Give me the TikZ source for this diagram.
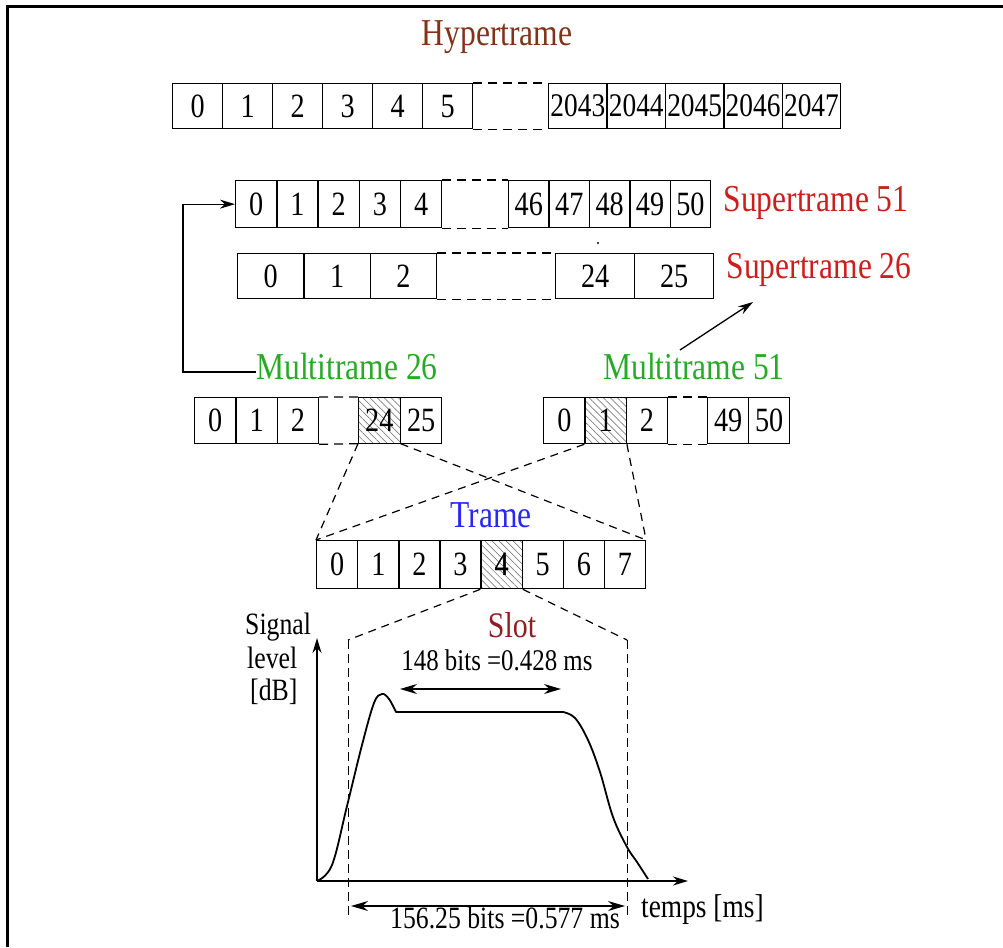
\documentclass[tikz,border=0pt]{standalone}
\usepackage{fontspec}
\setmainfont{Liberation Serif}[FakeStretch=0.83]
\usetikzlibrary{arrows.meta,patterns.meta}
\newcommand\myfs[1]{\fontsize{#1}{#1}\selectfont}
\definecolor{hyperbrown}{RGB}{130,50,25}
\definecolor{superred}{RGB}{205,30,30}
\definecolor{multigreen}{RGB}{40,170,40}
\definecolor{trameblue}{RGB}{40,40,240}
\definecolor{slotred}{RGB}{145,30,35}
\begin{document}
\begin{tikzpicture}[x=1pt,y=-1pt,
  cell/.style={draw, line width=1.3pt, inner sep=0pt, anchor=north west, font=\myfs{34}},
  hatched/.style={pattern={Lines[angle=-45,distance=5pt,line width=0.7pt]}, pattern color=gray},
  gapline/.style={line width=1.3pt, dash pattern=on 9pt off 6pt},
  zoomline/.style={line width=1.2pt, dash pattern=on 8pt off 6pt},
  title/.style={inner sep=0pt, font=\myfs{38}},
  note/.style={inner sep=0pt, font=\myfs{31}},
  axislabel/.style={inner sep=0pt, anchor=west, font=\myfs{31}},
  tip/.style={-{Stealth[length=15pt,width=9pt]}},
  both/.style={{Stealth[length=17pt,width=10pt]}-{Stealth[length=17pt,width=10pt]}, line width=1.3pt}]
\useasboundingbox (0,0) rectangle (1003,947);
% frame
\draw[line width=3pt] (7,947) -- (7,7) -- (1003,7);

% ---------- hyperframe ----------
\node[title, text=hyperbrown] (hyper) at (497,37) {Hypertrame};
\foreach \lab [count=\i from 0] in {0,1,2,3,4,5}
  \node[cell, minimum width=50pt, minimum height=45pt] (h\lab) at ({172+50*\i},83) {\lab};
\foreach \lab [count=\i from 0] in {2043,2044,2045,2046,2047}
  \node[cell, font=\myfs{33}, minimum width=58.4pt, minimum height=45pt] (h\lab) at ({548+58.4*\i},83) {\lab};
\draw[gapline] (h5.north east) -- (h2043.north west) (h5.south east) -- (h2043.south west);

% ---------- superframe of 51 multiframes ----------
\foreach \lab [count=\i from 0] in {0,1,2,3,4}
  \node[cell, minimum width=41.2pt, minimum height=47pt] (s\lab) at ({235+41.2*\i},180) {\lab};
\foreach \lab [count=\i from 0] in {46,47,48,49,50}
  \node[cell, minimum width=40.4pt, minimum height=47pt] (s\lab) at ({508+40.4*\i},180) {\lab};
\draw[gapline] (s4.north east) -- (s46.north west) (s4.south east) -- (s46.south west);
\node[title, text=superred] (st51) at (816,203) {Supertrame 51};
\fill (598,243) circle (1.2pt);

% ---------- superframe of 26 multiframes ----------
\foreach \lab [count=\i from 0] in {0,1,2}
  \node[cell, minimum width=66.3pt, minimum height=45pt] (u\lab) at ({237+66.3*\i},253) {\lab};
\foreach \lab [count=\i from 0] in {24,25}
  \node[cell, minimum width=79pt, minimum height=45pt] (u\lab) at ({555+79*\i},253) {\lab};
\draw[gapline] (u2.north east) -- (u24.north west) (u2.south east) -- (u24.south west);
\node[title, text=superred] (st26) at (819,270) {Supertrame 26};

% ---------- multiframes ----------
\node[title, text=multigreen] (mt26) at (347,366) {Multitrame 26};
\node[title, text=multigreen] (mt51) at (694,366) {Multitrame 51};

\foreach \lab [count=\i from 0] in {0,1,2}
  \node[cell, minimum width=41.3pt, minimum height=46pt] (m\lab) at ({194+41.3*\i},397) {\lab};
\node[cell, hatched, minimum width=42pt, minimum height=46pt] (m24) at (358,397) {24};
\node[cell, minimum width=41pt, minimum height=46pt] (m25) at (400,397) {25};
\draw[gapline] (m2.north east) -- (m24.north west) (m2.south east) -- (m24.south west);

\node[cell, minimum width=41.3pt, minimum height=46pt] (n0) at (543,397) {0};
\node[cell, hatched, minimum width=41.3pt, minimum height=46pt] (n1) at (584.3,397) {1};
\node[cell, minimum width=41.3pt, minimum height=46pt] (n2) at (625.6,397) {2};
\node[cell, minimum width=41pt, minimum height=46pt] (n49) at (707,397) {49};
\node[cell, minimum width=41pt, minimum height=46pt] (n50) at (748,397) {50};
\draw[gapline] (n2.north east) -- (n49.north west) (n2.south east) -- (n49.south west);

% multiframe labels point to their superframes
\coordinate (bend) at (183,372);
\draw[line width=1.3pt, tip] (mt26.west |- bend) -- (bend) |- (s0.west);
\coordinate (mtstart) at (680,350);
\coordinate (mttip) at (753,302);
\draw[line width=1.3pt, tip] (mtstart) -- (mttip);

% ---------- frame ----------
\node[title, text=trameblue] (trame) at (491,515) {Trame};
\foreach \lab [count=\i from 0] in {0,1,2,3,4,5,6,7}
  \node[cell, minimum width=41.1pt, minimum height=48pt] (t\lab) at ({316+41.1*\i},540) {\lab};
\node[cell, hatched, minimum width=41.1pt, minimum height=48pt] at (t4.north west) {4};

\draw[zoomline] (m24.south west) -- (t0.north west);
\draw[zoomline] (m24.south east) -- (t7.north east);
\draw[zoomline] (n1.south west) -- (t0.north west);
\draw[zoomline] (n1.south east) -- (t7.north east);

% ---------- slot ----------
\node[inner sep=0pt, font=\myfs{36}, text=slotred] (slot) at (512,625) {Slot};
\coordinate (sl) at (348,640);
\coordinate (sr) at (627,640);
\coordinate (slb) at (348,918);
\coordinate (srb) at (627,918);
\draw[zoomline] (t4.south west) -- (sl);
\draw[zoomline] (t4.south east) -- (sr);
\draw[line width=1pt, dash pattern=on 9pt off 5pt] (sl) -- (slb);
\draw[line width=1pt, dash pattern=on 9pt off 5pt] (sr) -- (srb);

% axes
\coordinate (o) at (317,881);
\coordinate (ytop) at (317,638);
\coordinate (xtip) at (688,881);
\draw[line width=1.8pt, tip] (o) -- (ytop);
\draw[line width=1.8pt, tip] (o) -- (xtip);
\node[axislabel] (sig) at (245,627) {Signal};
\node[axislabel] (lev) at (247,658) {level};
\node[axislabel] (db) at (250,692) {[dB]};
\node[axislabel, font=\myfs{33}] (temps) at (641,910) {temps [ms]};

% burst envelope
\draw[line width=1.8pt, line join=round]
  plot[smooth, tension=0.6] coordinates {(317,881) (332,865) (347,806) (362,745) (374,703) (382,694) (389,699) (396,712)}
  -- (563,712)
  plot[smooth, tension=0.6] coordinates {(563,712) (575,718) (588,740) (600,772) (613,817) (627,847) (637,862) (648,879)};

% durations
\coordinate (a1) at (400,689);
\coordinate (a2) at (561,689);
\draw[both] (a1) -- (a2);
\node[note, font=\myfs{30}] (usef) at (497,660) {148 bits =0.428 ms};
\coordinate (b1) at (351,906);
\coordinate (b2) at (625,906);
\draw[both] (b1) -- (b2);
\node[note] (whole) at (505,918) {156.25 bits =0.577 ms};
\end{tikzpicture}
\end{document}
